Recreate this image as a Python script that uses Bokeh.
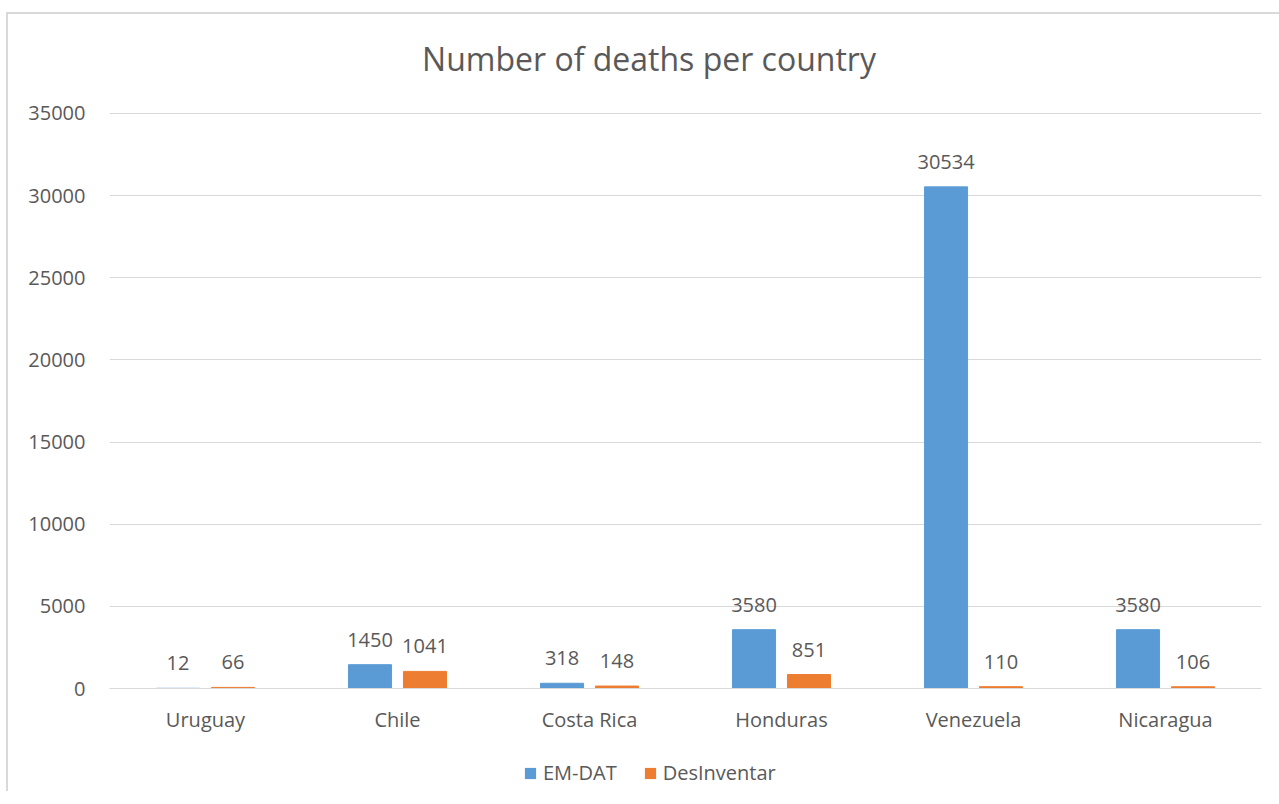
from bokeh.plotting import figure
from bokeh.layouts import column
from bokeh.models import (ColumnDataSource, FactorRange, FixedTicker, NumeralTickFormatter,
                          LabelSet, Label, Legend, LegendItem)
from bokeh.core.properties import value
from bokeh.transform import dodge
from bokeh.embed import file_html
from bokeh.resources import INLINE

countries = ["Uruguay", "Chile", "Costa Rica", "Honduras", "Venezuela", "Nicaragua"]
em_dat = [12, 1450, 318, 3580, 30534, 3580]
desinventar = [66, 1041, 148, 851, 110, 106]
y_ticks = [0, 5000, 10000, 15000, 20000, 25000, 30000, 35000]
series_names = ["EM-DAT", "DesInventar"]
title_text = "Number of deaths per country"

BLUE = "#5B9BD5"
ORANGE = "#ED7D31"
TEXT = "#595959"
GRID = "#D9D9D9"
FONT = "Open Sans"

# headroom above the top tick holds the chart title
Y_MAX = 35000
Y_END = 41026

source = ColumnDataSource(data=dict(
    country=countries,
    em_dat=em_dat,
    desinventar=desinventar,
    em_dat_txt=[str(v) for v in em_dat],
    desinventar_txt=[str(v) for v in desinventar],
))

p = figure(
    width=1272, height=735,
    x_range=FactorRange(*countries, range_padding=0),
    y_range=(0, Y_END),
    output_backend="svg", toolbar_location=None,
    min_border_left=101, min_border_right=19, min_border_top=0, min_border_bottom=61,
)
p.outline_line_color = None
p.background_fill_color = "white"
p.border_fill_color = "white"

p.add_layout(Label(x=2.81, y=38350, text=title_text, text_align="center",
                   text_baseline="middle", text_font=FONT, text_font_size="32px",
                   text_color=TEXT))

off = 0.143
bw = 0.224
p.vbar(x=dodge("country", -off, range=p.x_range), top="em_dat", width=bw,
       source=source, fill_color=BLUE, line_color=BLUE)
p.vbar(x=dodge("country", off, range=p.x_range), top="desinventar", width=bw,
       source=source, fill_color=ORANGE, line_color=ORANGE)

for col, sign in (("em_dat", -1), ("desinventar", 1)):
    labels = LabelSet(x=dodge("country", sign * off, range=p.x_range), y=col,
                      text=col + "_txt", source=source, y_offset=18,
                      text_align="center", text_baseline="bottom",
                      text_font=value(FONT), text_font_size=value("20px"),
                      text_color=value(TEXT))
    p.add_layout(labels)

# axes
p.yaxis.ticker = FixedTicker(ticks=y_ticks)
p.yaxis.formatter = NumeralTickFormatter(format="0")
p.yaxis.axis_line_color = None
p.yaxis.major_tick_line_color = None
p.yaxis.minor_tick_line_color = None
p.yaxis.major_label_text_font = FONT
p.yaxis.major_label_text_font_size = "20px"
p.yaxis.major_label_text_color = TEXT
p.yaxis.major_label_standoff = 18

p.xaxis.axis_line_color = GRID
p.xaxis.axis_line_width = 1
p.xaxis.major_tick_line_color = None
p.xaxis.minor_tick_line_color = None
p.xaxis.major_label_text_font = FONT
p.xaxis.major_label_text_font_size = "20px"
p.xaxis.major_label_text_color = TEXT
p.xaxis.major_label_standoff = 11

p.xgrid.grid_line_color = None
p.ygrid.grid_line_color = GRID
p.ygrid.grid_line_width = 1

# legend strip underneath the chart; the key glyphs are zero-height bars
leg = figure(width=1272, height=42, x_range=(0, 1), y_range=(0, 1),
             output_backend="svg", toolbar_location=None, min_border=0)
leg.axis.visible = False
leg.grid.visible = False
leg.outline_line_color = None
leg.background_fill_color = "white"
k1 = leg.vbar(x=[0.5], top=[0], bottom=[0], width=0.001, fill_color=BLUE, line_color=None)
k2 = leg.vbar(x=[0.5], top=[0], bottom=[0], width=0.001, fill_color=ORANGE, line_color=None)
legend = Legend(items=[LegendItem(label=series_names[0], renderers=[k1]),
                       LegendItem(label=series_names[1], renderers=[k2])],
                orientation="horizontal", location=(414, 5),
                label_text_font=FONT, label_text_font_size="20px", label_text_color=TEXT,
                glyph_width=14, glyph_height=14, spacing=26, label_standoff=6,
                border_line_color=None, background_fill_alpha=0, margin=0, padding=4)
leg.add_layout(legend, "center")

page = column(p, leg, spacing=0)
page.styles = {"margin-left": "6px", "margin-top": "12px",
               "border-left": "2px solid #D9D9D9", "border-top": "2px solid #D9D9D9"}

open("out.html", "w").write(file_html(page, INLINE))
